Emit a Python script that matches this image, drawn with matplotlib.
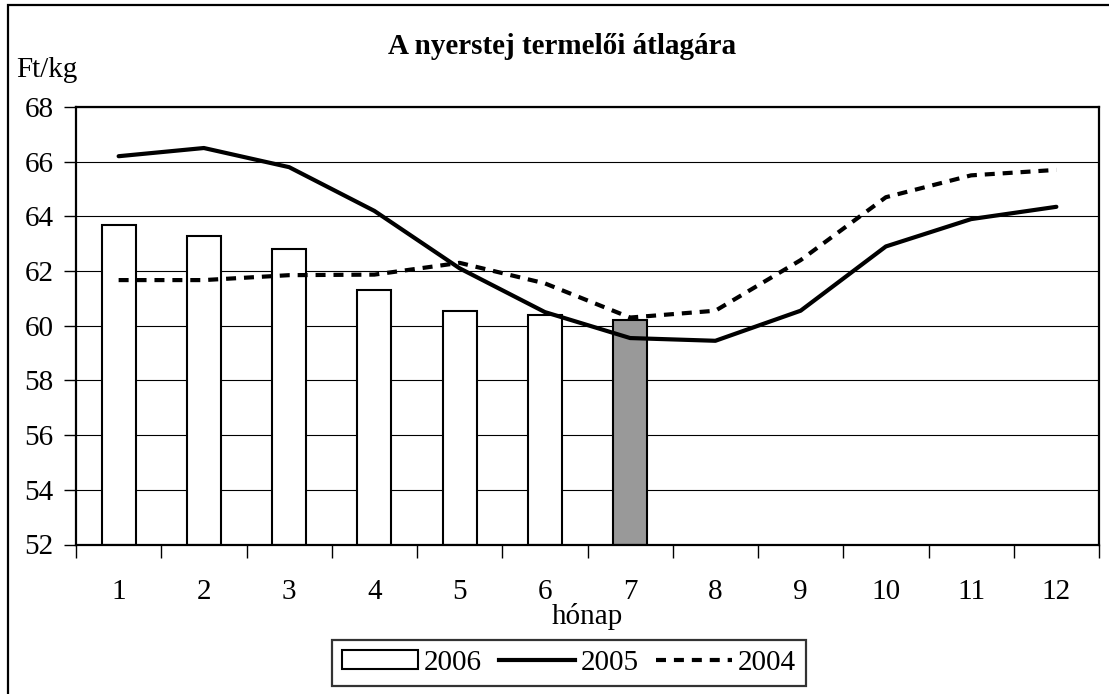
import numpy as np
import matplotlib
matplotlib.use("Agg")
import matplotlib.pyplot as plt
from matplotlib.patches import Rectangle, Patch
from matplotlib.lines import Line2D

months = [1, 2, 3, 4, 5, 6, 7, 8, 9, 10, 11, 12]
price_2006 = [63.7, 63.3, 62.8, 61.3, 60.55, 60.4, 60.2]
price_2005 = [66.2, 66.5, 65.8, 64.2, 62.1, 60.5, 59.55, 59.45, 60.55, 62.9, 63.9, 64.35]
price_2004 = [61.67, 61.67, 61.85, 61.87, 62.3, 61.55, 60.3, 60.55, 62.4, 64.7, 65.5, 65.7]
y_ticks = [52, 54, 56, 58, 60, 62, 64, 66, 68]

plt.rcParams["font.family"] = ["Liberation Serif", "DejaVu Serif"]
FS = 21

fig = plt.figure(figsize=(11.09, 6.94), dpi=100)
ax = fig.add_axes([76 / 1109, 1 - 544.5 / 694, (1099 - 76) / 1109, (544.5 - 107) / 694])

# outer frame (cropped at right/bottom in the original)
fig.patches.append(Rectangle((8 / 1109, -0.1), 1.2, 1.1 - 5 / 694, transform=fig.transFigure,
                             fill=False, edgecolor="black", linewidth=1.6))

for y in y_ticks[1:]:
    ax.axhline(y, color="black", linewidth=0.8, zorder=0)

bar_colors = ["white"] * (len(price_2006) - 1) + ["#999999"]
ax.bar(months[:len(price_2006)], np.array(price_2006) - 52, bottom=52, width=0.4,
       color=bar_colors, edgecolor="black", linewidth=1.5, zorder=2)

ax.plot(months, price_2005, color="black", linewidth=3, solid_capstyle="round", zorder=3)
ax.plot(months, price_2004, color="black", linewidth=3, dashes=(2.4, 1.9),
        dash_capstyle="butt", zorder=3)

ax.set_xlim(0.5, 12.5)
ax.set_ylim(52, 68)
ax.set_yticks(y_ticks)
ax.set_yticklabels([str(v) for v in y_ticks], fontsize=FS)
ax.set_xticks(months)
ax.set_xticklabels([str(m) for m in months], fontsize=FS)
ax.tick_params(axis="x", which="major", length=0, pad=25)
ax.set_xticks(np.arange(0.5, 13, 1), minor=True)
ax.tick_params(axis="x", which="minor", length=9, width=1, direction="out")
ax.tick_params(axis="y", length=9, width=1, direction="out", pad=7)
for s in ax.spines.values():
    s.set_linewidth(1.6)

ax.set_xlabel("hónap", fontsize=FS, labelpad=-1.5)
fig.text(562 / 1109, 1 - 46 / 694, "A nyerstej termelői átlagára", fontsize=FS,
         fontweight="bold", ha="center", va="center")
fig.text(16 / 1109, 1 - 70 / 694, "Ft/kg", fontsize=FS, ha="left", va="center")

handles = [
    Patch(facecolor="white", edgecolor="black", linewidth=1.5),
    Line2D([], [], color="black", linewidth=3),
    Line2D([], [], color="black", linewidth=3, dashes=(2.4, 1.9), dash_capstyle="butt"),
]
leg = fig.legend(handles, ["2006", "2005", "2004"], loc="center",
                 bbox_to_anchor=(569 / 1109, 1 - 663 / 694), ncol=3, fontsize=FS,
                 frameon=True, fancybox=False, handlelength=2.6, handleheight=0.6,
                 handletextpad=0.2, columnspacing=0.6, borderpad=0.35,
                 borderaxespad=0)
leg.get_frame().set_edgecolor("black")
leg.get_frame().set_linewidth(1.6)

fig.savefig("out.png", dpi=100)
